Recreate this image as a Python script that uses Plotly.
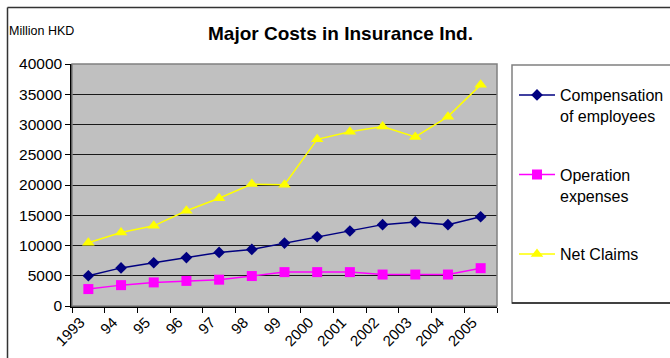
import plotly.graph_objects as go

# Years (category axis) and series values in million HKD
years = ["1993", "94", "95", "96", "97", "98", "99", "2000", "2001", "2002", "2003", "2004", "2005"]
compensation = [5000, 6300, 7150, 8000, 8850, 9350, 10400, 11450, 12400, 13450, 13900, 13450, 14750]
operation = [2800, 3450, 3900, 4150, 4350, 4950, 5600, 5600, 5600, 5200, 5200, 5200, 6250]
net_claims = [10450, 12150, 13250, 15750, 17800, 20150, 20050, 27550, 28800, 29650, 27950, 31300, 36550]

series_names = ["Compensation<br>of employees", "Operation<br>expenses", "Net Claims"]
series_colors = ["#000080", "#FF00FF", "#FFFF00"]
series_symbols = ["diamond", "square", "triangle-up"]
series_sizes = [9, 10, 11]
series_values = [compensation, operation, net_claims]

FONT = "Liberation Sans, Arial, sans-serif"

fig = go.Figure()
for i, (name, vals, col, sym, sz) in enumerate(
        zip(series_names, series_values, series_colors, series_symbols, series_sizes)):
    fig.add_trace(go.Scatter(
        x=years, y=vals, name=name, mode="lines+markers",
        line=dict(color=col, width=1.5),
        marker=dict(symbol=sym, size=sz, color=col, line=dict(width=0)),
        legendgroup=f"g{i}",
    ))

W, H = 670, 358
L, R, T, B = 72, 497, 64, 306  # plot area in pixels


def px(x):
    return (x - L) / (R - L)


def py(y):
    return (B - y) / (B - T)


shapes = [
    # plot area border
    dict(type="rect", xref="paper", yref="paper", x0=0, x1=1, y0=0, y1=1,
         line=dict(color="#808080", width=1.5), layer="above"),
    # legend frame
    dict(type="rect", xref="paper", yref="paper", x0=px(512), x1=px(680), y0=py(303), y1=py(65),
         line=dict(color="#808080", width=1.5)),
    dict(type="line", xref="paper", yref="paper", x0=px(512), x1=px(680), y0=py(303), y1=py(303),
         line=dict(color="#222222", width=1.5)),
    # chart area frame (left and top edges)
    dict(type="line", xref="paper", yref="paper", x0=px(7.5), x1=px(7.5), y0=py(400), y1=py(7.5),
         line=dict(color="#333333", width=1.5)),
    dict(type="line", xref="paper", yref="paper", x0=px(7.5), x1=px(700), y0=py(7.5), y1=py(7.5),
         line=dict(color="#333333", width=1.5)),
]

fig.update_layout(
    width=W, height=H,
    margin=dict(l=L, r=W - R, t=T, b=H - B, pad=0, autoexpand=False),
    paper_bgcolor="white",
    plot_bgcolor="#C0C0C0",
    font=dict(family=FONT, size=15, color="black"),
    shapes=shapes,
    showlegend=True,
    legend=dict(
        x=px(514), y=py(78), xanchor="left", yanchor="top",
        bgcolor="rgba(0,0,0,0)", borderwidth=0,
        font=dict(family=FONT, size=16, color="black"),
        valign="top", tracegroupgap=35, itemwidth=36,
    ),
    annotations=[
        dict(text="<b>Major Costs in Insurance Ind.</b>", xref="paper", yref="paper",
             x=px(340), y=py(34), xanchor="center", yanchor="middle", showarrow=False,
             font=dict(family=FONT, size=19, color="black")),
        dict(text="Million HKD", xref="paper", yref="paper",
             x=px(7), y=py(31), xanchor="left", yanchor="middle", showarrow=False,
             font=dict(family=FONT, size=12.5, color="black")),
    ],
)

fig.update_xaxes(
    type="category", range=[-0.5, len(years) - 0.5],
    tickson="boundaries", ticks="outside", ticklen=5, tickcolor="black", tickwidth=1,
    showline=True, linecolor="black", linewidth=1.5,
    showgrid=False, tickangle=-45, ticklabelshift=-8,
    tickfont=dict(family=FONT, size=15),
)
fig.update_yaxes(
    range=[0, 40000], dtick=5000, tick0=0, tickformat="d",
    ticks="outside", ticklen=5, tickcolor="black", tickwidth=1,
    showline=True, linecolor="black", linewidth=1.5,
    showgrid=True, gridcolor="#1a1a1a", gridwidth=1, zeroline=False,
    tickfont=dict(family=FONT, size=15.5),
)

fig.write_html("out.html")
